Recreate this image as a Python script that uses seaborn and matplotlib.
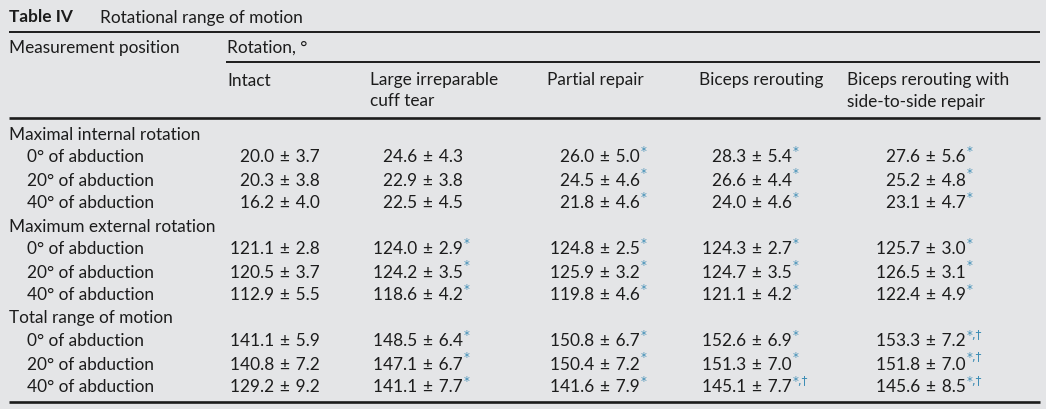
import matplotlib
matplotlib.use("Agg")
import matplotlib.pyplot as plt
import seaborn as sns

# Table IV data: mean ± SD of rotation (degrees)
title_tag = "Table IV"
title_text = "Rotational range of motion"
stub_header = "Measurement position"
span_header = "Rotation, °"

columns = ["Intact", "Large irreparable\ncuff tear", "Partial repair",
           "Biceps rerouting", "Biceps rerouting with\nside-to-side repair"]
groups = ["Maximal internal rotation", "Maximum external rotation", "Total range of motion"]
positions = ["0° of abduction", "20° of abduction", "40° of abduction"]

intact_mean = [20.0, 20.3, 16.2, 121.1, 120.5, 112.9, 141.1, 140.8, 129.2]
intact_sd = [3.7, 3.8, 4.0, 2.8, 3.7, 5.5, 5.9, 7.2, 9.2]
tear_mean = [24.6, 22.9, 22.5, 124.0, 124.2, 118.6, 148.5, 147.1, 141.1]
tear_sd = [4.3, 3.8, 4.5, 2.9, 3.5, 4.2, 6.4, 6.7, 7.7]
partial_mean = [26.0, 24.5, 21.8, 124.8, 125.9, 119.8, 150.8, 150.4, 141.6]
partial_sd = [5.0, 4.6, 4.6, 2.5, 3.2, 4.6, 6.7, 7.2, 7.9]
biceps_mean = [28.3, 26.6, 24.0, 124.3, 124.7, 121.1, 152.6, 151.3, 145.1]
biceps_sd = [5.4, 4.4, 4.6, 2.7, 3.5, 4.2, 6.9, 7.0, 7.7]
s2s_mean = [27.6, 25.2, 23.1, 125.7, 126.5, 122.4, 153.3, 151.8, 145.6]
s2s_sd = [5.6, 4.8, 4.7, 3.0, 3.1, 4.9, 7.2, 7.0, 8.5]

# significance marks (* vs intact, † vs large tear)
intact_sig = [""] * 9
tear_sig = ["", "", "", "*", "*", "*", "*", "*", "*"]
partial_sig = ["*"] * 9
biceps_sig = ["*"] * 8 + ["*,†"]
s2s_sig = ["*"] * 6 + ["*,†"] * 3

means = [intact_mean, tear_mean, partial_mean, biceps_mean, s2s_mean]
sds = [intact_sd, tear_sd, partial_sd, biceps_sd, s2s_sd]
sigs = [intact_sig, tear_sig, partial_sig, biceps_sig, s2s_sig]

bg = "#e4e5e7"
ink = "#1c1c1c"
mark = "#3d8db5"

sns.set_theme(style="white", rc={"figure.facecolor": bg, "axes.facecolor": bg})
plt.rcParams["font.family"] = ["Lato", "DejaVu Sans"]
fs = 12.4

fig = plt.figure(figsize=(10.46, 4.09), dpi=100)
ax = fig.add_axes([0, 0, 1, 1])
ax.set_xlim(0, 1046)
ax.set_ylim(409, 0)
ax.axis("off")

# title
ax.text(9, 17.5, title_tag, fontsize=fs, fontweight="bold", color=ink, va="center")
ax.text(100, 17.5, title_text, fontsize=fs, color=ink, va="center")

# rules
ax.plot([9, 1040], [31.5, 31.5], color=ink, lw=1.4, solid_capstyle="butt")
ax.plot([226, 1040], [62, 62], color=ink, lw=1.4, solid_capstyle="butt")
ax.plot([9, 1040], [118, 118], color=ink, lw=1.9, solid_capstyle="butt")
ax.plot([9, 1040], [402, 402], color=ink, lw=1.9, solid_capstyle="butt")

# headers
ax.text(9, 47.5, stub_header, fontsize=fs, color=ink, va="center")
ax.text(227, 47.5, span_header, fontsize=fs, color=ink, va="center")
col_left = [227, 370, 547, 699, 847]
for x, name in zip(col_left, columns):
    for i, line in enumerate(name.split("\n")):
        ax.text(x, 80.5 + 21 * i, line, fontsize=fs, color=ink, va="center")

# body
val_right = [320, 463, 640, 792, 966]
y = 134.5
row = 0
for g in groups:
    ax.text(9, y, g, fontsize=fs, color=ink, va="center")
    y += 23
    for p in positions:
        ax.text(27, y, p, fontsize=fs, color=ink, va="center")
        for c in range(len(columns)):
            s = f"{means[c][row]:.1f}\u2004\u00b1\u2004{sds[c][row]:.1f}"
            ax.text(val_right[c], y, s, fontsize=fs, color=ink, va="center", ha="right")
            if sigs[c][row]:
                ax.text(val_right[c] + 1, y - 6.5, sigs[c][row], fontsize=8.5,
                        family=["DejaVu Sans"], color=mark, va="center", ha="left")
        y += 23
        row += 1

fig.savefig("out.png", dpi=100, facecolor=bg)
